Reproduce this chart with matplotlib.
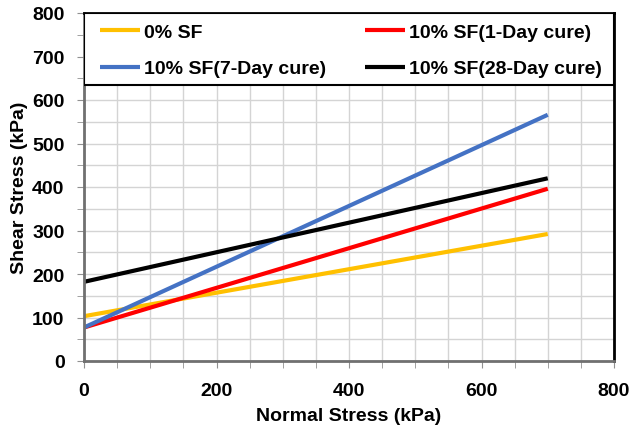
import numpy as np
import matplotlib
matplotlib.use("Agg")
import matplotlib.pyplot as plt
from matplotlib.ticker import MultipleLocator
from matplotlib.patches import Rectangle

plt.rcParams['font.family'] = ['Liberation Sans', 'DejaVu Sans']
plt.rcParams['font.weight'] = 'bold'

# fitted failure envelopes, end points at normal stress 0 and 700 kPa
normal_stress = [0, 700]
sf0 = [103, 292]
sf10_1day = [77, 396]
sf10_7day = [77, 566]
sf10_28day = [182, 420]
labels = ['0% SF', '10% SF(1-Day cure)', '10% SF(7-Day cure)', '10% SF(28-Day cure)']

fig = plt.figure(figsize=(6.32, 4.27), dpi=100)
ax = fig.add_axes([84/632, 1-362/427, 530/632, 348/427])

l0, = ax.plot(normal_stress, sf0, color='#FFC000', lw=3, solid_capstyle='butt')
l1, = ax.plot(normal_stress, sf10_1day, color='#FF0000', lw=3, solid_capstyle='butt')
l7, = ax.plot(normal_stress, sf10_7day, color='#4472C4', lw=3, solid_capstyle='butt')
l28, = ax.plot(normal_stress, sf10_28day, color='#000000', lw=3, solid_capstyle='butt')

ax.set_xlim(0, 800)
ax.set_ylim(0, 800)
ax.xaxis.set_major_locator(MultipleLocator(200))
ax.xaxis.set_minor_locator(MultipleLocator(50))
ax.yaxis.set_major_locator(MultipleLocator(100))
ax.yaxis.set_minor_locator(MultipleLocator(50))
ax.grid(True, which='both', color='#D4D4D4', lw=1)
ax.set_axisbelow(True)

for s in ['left', 'bottom']:
    ax.spines[s].set_color('#707070')
    ax.spines[s].set_linewidth(2)
for s in ['top', 'right']:
    ax.spines[s].set_color('black')
    ax.spines[s].set_linewidth(2)

ax.tick_params(which='both', direction='out', length=5, color='#909090', labelsize=14)
ax.tick_params(axis='y', pad=9)
ax.tick_params(axis='x', pad=10)
ax.set_xlabel('Normal Stress (kPa)', fontsize=14, fontweight='bold', labelpad=6)
ax.set_ylabel('Shear Stress (kPa)', fontsize=14, fontweight='bold', labelpad=3)

# white legend panel across the top of the plot area
ax.add_patch(Rectangle((0, (362-86)/348), 1, 1-(362-86)/348, transform=ax.transAxes,
                       facecolor='white', edgecolor='black', lw=1.5, zorder=3))

leg = ax.legend([l0, l7, l1, l28], [labels[0], labels[2], labels[1], labels[3]],
                ncol=2, loc='center left', bbox_to_anchor=(16/530, (362-51.5)/348),
                frameon=False, borderpad=0, borderaxespad=0,
                handlelength=2.05, handletextpad=0.2, columnspacing=2.0,
                prop={'size': 14, 'weight': 'bold'}, labelspacing=0.95)
leg.set_zorder(4)

fig.savefig('out.png', dpi=100)
